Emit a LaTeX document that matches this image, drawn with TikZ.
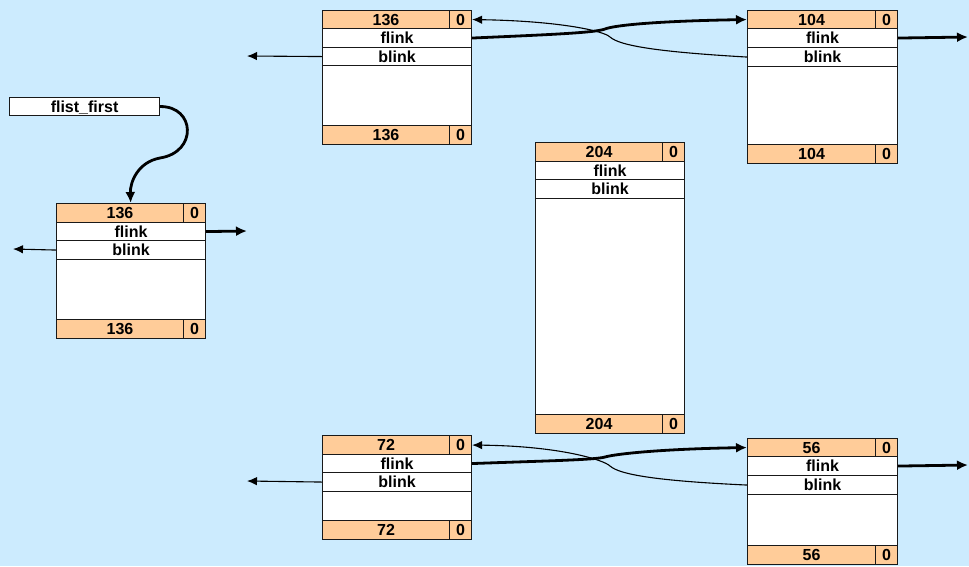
\documentclass[tikz,border=0pt]{standalone}
\usepackage{fontspec}
\setmainfont{Liberation Sans}
\usetikzlibrary{arrows.meta,calc}
\definecolor{bgblue}{RGB}{204,235,254}
\definecolor{hdrorange}{RGB}{255,204,153}
\definecolor{linec}{RGB}{25,25,25}
\tikzset{
  cell/.style={draw=linec,line width=1.1pt,inner sep=0pt,anchor=north west,
    font=\fontsize{16}{17}\selectfont\bfseries,text height=11pt,text depth=0pt},
  hdr/.style={cell,fill=hdrorange},
  rowbox/.style={cell,fill=white},
  thinarr/.style={draw=black,line width=1.1pt,-{Latex[length=10pt,width=8.5pt]}},
  thickarr/.style={draw=black,line width=2.8pt,-{Latex[length=11pt,width=10pt]}},
}
\begin{document}
\begin{tikzpicture}[x=1pt,y=-1pt]
\fill[bgblue] (0,0) rectangle (969,566);
\useasboundingbox (0,0) rectangle (969,566);
\foreach \n/\v/\xa/\xs/\xb/\ya/\yb/\yc/\yd/\ye/\yf in {
A/136/322/449/471/10/28/47/65/125/144,
B/104/747/875/897/10/28/47/66/144/163,
C/136/56/183/205/203/222/240/259/319/338,
D/204/535/662/684/142/161/179/198/414/433,
E/72/322/449/471/435/454/472/491/520/539,
F/56/747/875/897/438/456/475/494/545/564}{
  \node[rowbox,minimum width={(\xb-\xa)*1pt},minimum height={(\ye-\yd)*1pt}] (\n-body) at (\xa,\yd) {};
  \node[rowbox,minimum width={(\xb-\xa)*1pt},minimum height={(\yc-\yb)*1pt}] (\n-f) at (\xa,\yb) {flink};
  \node[rowbox,minimum width={(\xb-\xa)*1pt},minimum height={(\yd-\yc)*1pt}] (\n-b) at (\xa,\yc) {blink};
  \node[hdr,minimum width={(\xs-\xa)*1pt},minimum height={(\yb-\ya)*1pt}] (\n-h) at (\xa,\ya) {\v};
  \node[hdr,minimum width={(\xb-\xs)*1pt},minimum height={(\yb-\ya)*1pt}] (\n-n) at (\xs,\ya) {0};
  \node[hdr,minimum width={(\xs-\xa)*1pt},minimum height={(\yf-\ye)*1pt}] (\n-fh) at (\xa,\ye) {\v};
  \node[hdr,minimum width={(\xb-\xs)*1pt},minimum height={(\yf-\ye)*1pt}] (\n-fn) at (\xs,\ye) {0};
}
\node[rowbox,minimum width=150pt,minimum height=18pt] (first) at (9,97) {flist\_first};
% free ends
\coordinate (Abl) at (247,56);
\coordinate (Bfl) at (968,37);
\coordinate (Cbl) at (13,249);
\coordinate (Cfl) at (247,231);
\coordinate (Ebl) at (247,481);
\coordinate (Ffl) at (968,465);
% blink arrows (left)
\draw[thinarr] (A-b.west) -- (Abl);
\draw[thinarr] (C-b.west) -- (Cbl);
\draw[thinarr] (E-b.west) -- (Ebl);
% flink arrows (right)
\draw[thickarr] (B-f.east) -- (Bfl);
\draw[thickarr] (C-f.east) -- (Cfl);
\draw[thickarr] (F-f.east) -- (Ffl);
% top crossing
\draw[thickarr] (A-f.east) .. controls (540,35) and (595,33) .. (605,29)
   .. controls (615,25) and (660,21) .. (B-h.west);
\draw[thinarr] (B-b.west) .. controls (660,52) and (620,46) .. (610,37)
   .. controls (604,31) and (560,21) .. (A-n.east);
% bottom crossing
\draw[thickarr] (E-f.east) .. controls (540,461) and (595,460) .. (605,457)
   .. controls (615,454) and (660,449) .. (F-h.west);
\draw[thinarr] (F-b.west) .. controls (660,481) and (620,475) .. (610,466)
   .. controls (604,460) and (560,446) .. (E-n.east);
% flist_first pointer
\draw[thickarr] (first.east) .. controls (195,106) and (198,152) .. (160,158)
   .. controls (138,162) and (130,182) .. ($(C-h.north west)!0.583!(C-h.north east)$);
\end{tikzpicture}
\end{document}
